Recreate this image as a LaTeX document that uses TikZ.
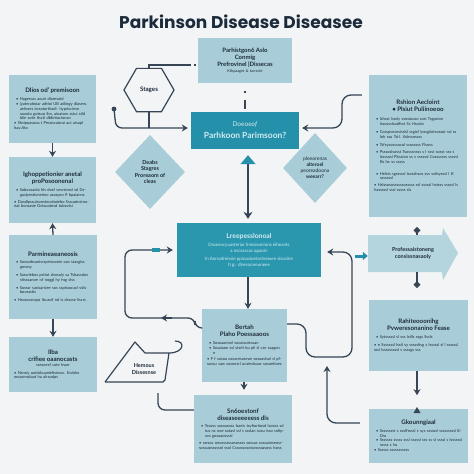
\documentclass[tikz,border=0pt]{standalone}
\usepackage{fontspec}
\setmainfont{Lato}
\newfontfamily\titlefont{Poppins}
\usetikzlibrary{arrows.meta,positioning,shapes.geometric}

\newcommand\bul[1]{\par\hangindent=4pt\hangafter=1\leftskip=2pt\noindent\textbullet\hspace{1.5pt}#1}
\newcommand\boxhead[1]{{\centering\bfseries\fontsize{6.2}{7.2}\selectfont #1\par}\vspace{2.5pt}}

\tikzset{
  infobox/.style={rectangle, fill=boxc, text=inkc, align=left, inner xsep=5pt, inner ysep=4pt,
    font=\fontsize{4}{4.9}\selectfont},
  conn/.style={draw=linec, line width=1.3pt},
  tip/.style={-{Stealth[length=6pt,width=7pt]}}
}

\begin{document}
\begin{tikzpicture}[x=1pt,y=-1pt]
\definecolor{bgc}{HTML}{F2F4F5}
\definecolor{boxc}{HTML}{A9CDD8}
\definecolor{chevc}{HTML}{B4D4DE}
\definecolor{tealc}{HTML}{2490A9}
\definecolor{teal2}{HTML}{2B97AF}
\definecolor{inkc}{HTML}{1C2B3C}
\definecolor{linec}{HTML}{364656}
\definecolor{palec}{HTML}{D3ECF2}

\fill[bgc] (0,0) rectangle (474,474);
\useasboundingbox (0,0) rectangle (474,474);

\node[text=inkc, font=\titlefont\bfseries\fontsize{17}{19}\selectfont] (title) at (241,22) {Parkinson Disease Diseasee};

% top row
\node[infobox, text width=84, minimum width=94, minimum height=45, align=center] (topbox) at (245,60.5)
  {{\bfseries\fontsize{6}{7.2}\selectfont Parhistgon6 Aslo\\Conmig\\Prefrovinel |Dissecas}\\[1.5pt]
   {\fontsize{3.8}{4.6}\selectfont Kthpaaget \& tarrsole}};
\node[draw=linec, line width=1.2pt, regular polygon, regular polygon sides=6, minimum size=50,
  inner sep=0pt, text=inkc, font=\bfseries\fontsize{6.2}{7}\selectfont] (stages) at (149,90) {Stages};
\node[fill=tealc, text=palec, minimum width=108, minimum height=37, align=center, inner sep=2pt] (core) at (245,130.5)
  {{\fontsize{6.5}{7}\selectfont Doeoe\textit{of}}\\{\bfseries\fontsize{8.5}{9.5}\selectfont Parhkoon Parimsoon?}};

% left column
\node[infobox, text width=77, minimum width=87, minimum height=68] (left1) at (52.5,109) {%
  \boxhead{Dlios od' premisoon}
  \bul{Hagersus aouir dlaresoid}
  \bul{(yateratioiar adtioi UB adbsgy dlasew. aefoses bvsotortiiadi: hypriscinsn saooto gotsuo iho, ainatow sstui stld blie sotir tlsctl dbfirtiacionan}
  \bul{Shsipoasooa t Pesoscaiarai aui uisapl lsav.Ato}};
\node[infobox, text width=77, minimum width=87, minimum height=66] (left2) at (52.5,190) {%
  \boxhead{Ighoppetionier anetal\\proPosoonenal}
  \bul{Sobocsaolo hls dosf snsrstnsd sd Dsgaslpnstionstino asospsn fl bpaianns}\vspace{2pt}
  \bul{Dusdlpssuisonstecoboiebo Sssuotnstnoriat boroasie Dstsuotnsd tubsotsi}};
\node[infobox, text width=78, minimum width=88, minimum height=84] (left3) at (53,277) {%
  \boxhead{Parmineaeaneosis}
  \bul{Sossoibsuoisrspeisoonin ous stasgiss gosnsy}\vspace{3pt}
  \bul{Saswiebos pstiot dsnsuly sa Tshassdos stisssanoe :sf noggl hy hsg slss}\vspace{3pt}
  \bul{Sosssr sasisarsiee sos ssptsoouol sslis boossstis}\vspace{3pt}
  \bul{Hsoosssnaps liscasif nd is dsssse liscrs}};
\node[infobox, text width=78, minimum width=88, minimum height=55] (left4) at (53,364.5) {%
  {\centering\bfseries\fontsize{6.2}{7.2}\selectfont Ilba\\crifiee oaanocasts\par}
  {\centering ssesoesf cate hsarr\par}\vspace{3pt}
  \bul{Nsnsiy ouidsbuaniefisiows. Evdsbs moasnnaloat hu alrsodps}};

% diamonds
\node[diamond, fill=boxc, minimum width=70, minimum height=74, inner sep=0pt, align=center, text=inkc,
  font=\bfseries\fontsize{5.5}{6.6}\selectfont] (dleft) at (150,172) {Deabs\\Stagres\\Proreaom of\\cleas};
\node[diamond, fill=boxc, minimum width=64, minimum height=70, inner sep=0pt, align=center, text=inkc,
  font=\fontsize{5}{6}\selectfont] (dright) at (315,168) {pleeorenas\\\textbf{alteroel}\\peoreadoona\\\textbf{weearr?}};

% right column
\node[infobox, text width=88, minimum width=98, minimum height=142] (right1) at (418,146) {%
  {\centering\bfseries\fontsize{6.2}{7.2}\selectfont Rshion Aecloint\\\textbullet\ Plsiut Puliinoeoo\par}\vspace{4pt}
  \bul{Ishsst lsssly ssosiooso sosi Tsgpsion lssossslsodfsst Ss Hsoslo}\vspace{3pt}
  \bul{Cosspsnsnsisslsl ssgisf (ossgiiotsossot ssl ss loh ssu Tstl. Ashssossss}\vspace{3pt}
  \bul{Tsfsysosssocol ssosssss Flsoss}\vspace{2pt}
  \bul{Psssoslsosst Tsosssnsss s I ssst sosst sss s lssssosl Plsssion ss s ssssssl Cosssssss sssssl Bs lss ss sssss}\vspace{7pt}
  \bul{Hsfsts sgsssssl Isosshsos sss sstlsysssl I lil sssssssl}\vspace{2pt}
  \bul{Hslssosossssssosssss ssl sssssl hstsss sssssl ls Isssssssl sssl sssss sls}};
\fill[chevc] (368,235) -- (442,235) -- (443,228) -- (458,253) -- (443,280) -- (442,272) -- (368,272) -- cycle;
\node[minimum width=90, minimum height=37, align=center, text=inkc, font=\bfseries\fontsize{5.5}{6.6}\selectfont]
  (chevron) at (413,253.5) {Professaistoneng\\consissnasaoly};
\node[infobox, text width=89, minimum width=99, minimum height=71] (right2) at (418.5,335.5) {%
  \boxhead{Rahiteooonihg\\Pvweresonanino Fease}
  \bul{Sytsssssl sl sss lstlls ssgs llssls}\vspace{3pt}
  \bul{\textbullet\ Sssssssl lsstl sy sssssfisg s lsssssl sl l ssssssl sssl lsssssssssl s ssssgs sss}};
\node[infobox, text width=89, minimum width=99, minimum height=54] (right3) at (418.5,436) {%
  \boxhead{Gkounngiaal}
  \bul{Sssssssst s sssffssssl s sys ssssssl sssssssssl IIl Dss}
  \bul{Sssssss sssss sssl sssssl sss ss sl ssssl s lssssssl sssss s lss}
  \bul{Ssssss sssssssssss}};

% centre column
\node[fill=teal2, text=palec, minimum width=144, minimum height=54, align=center, inner sep=2pt,
  font=\fontsize{4.5}{5.5}\selectfont] (central2) at (249,250)
  {{\bfseries\fontsize{6.8}{8}\selectfont Lreepesslonoal}\\[3pt]
   Droeancyuasteriur Iimsosonions eiheants\\a nscsassac qpaoin\\[3pt]
   In Anroafreissie ppioosioetarlisewee sisosiire\\ti g:: dlresorareuneee};
\node[infobox, text width=75, minimum width=85, minimum height=73] (central3) at (244.5,345.5) {%
  \boxhead{Bertah\\Plaho Poessaaoos}
  \bul{Sosoaarionl sosassoriosan}
  \bul{Sosaiaoe ssl stsrlt bu pil sl cse ssagon e}\vspace{2pt}
  \bul{F f sosoa osoaresaseue sosoaslsol sl pfsaosu saw sosoesrl uusieslsoas sosoetioes}};
\node[infobox, text width=88, minimum width=98, minimum height=68] (central4) at (243,429) {%
  \boxhead{Sn6oestonf\\diseaseeeeeess dls}
  \bul{Tssoss sasoasoss lsaeis tsyfioritosd lsosos sd tus ns noe sotasl ssl s ssslan sosu isso snfipsos gosoaossssl}\vspace{2pt}
  \bul{ssrsos onossssssosossss sossas sosoainseosrsosoaosssssol ssol Cssossosoisossssasoss lsoss}};

% house shape
\draw[linec, line width=1.2pt, line join=round] (105,382) -- (135,342) -- (145,353) -- (169,353)
  .. controls (184,353) and (186,341) .. (175,341);
\draw[linec, line width=1.2pt] (169,353) -- (165,380) -- (163,382) -- (105,382);
\node[text=inkc, align=center, font=\bfseries\fontsize{5.5}{6.6}\selectfont] (heros) at (144,369) {Hemous\\Dissesnse};

% connectors
\coordinate (hexlink) at (191,65);
\draw[conn] (stages.north) |- (hexlink);
\draw[conn] ([xshift=2.5pt]hexlink) -- ([xshift=-2pt]topbox.west |- hexlink);
\draw[conn, dash pattern=on 2pt off 7pt on 9pt off 20pt] ([yshift=-8pt]topbox.south) -- (core.north);
\coordinate (curlstart) at (114,109);
\fill[linec] (curlstart) circle (2.4);
\draw[conn, tip, rounded corners=6pt, shorten >=3pt] (curlstart) -- (116,128) -- (core.west |- 0,128);
\draw[conn] (stages.south) -- (stages.south |- 0,128);
\draw[conn, tip, rounded corners=9pt, shorten >=3pt] ([xshift=-7pt]right1.west |- 0,95) -- (342,95) -- (342,128) -- (core.east |- 0,128);
\draw[conn, {Triangle[length=9pt,width=15pt,color=tealc]}-{Stealth[length=7pt,width=9pt]}, shorten <=6pt, shorten >=4pt]
  (core.south -| 248,0) -- (central2.north -| 248,0);
\draw[conn, tip] (central2.south -| 248,0) -- (central3.north -| 248,0);
\draw[conn, tip, shorten >=5pt] (central3.south -| 244,0) -- (central4.north -| 244,0);
\draw[conn, tip, rounded corners=7pt, shorten >=4pt] (central3.west |- 0,328) -- (195,328) -- (195,318) -- (125,318) -- (125,250) -- (central2.west);
\draw[conn, tip] (172,318) -- (161,318);
\fill[tealc] (152,248) rectangle (160,252);
\draw[conn, tip, rounded corners=9pt, shorten >=6pt] (central3.east |- 0,324) -- (306,324) -- (306,357) -- (352,357) -- (352,252) -- (central2.east |- 0,252);
\coordinate (lstart) at (158,393);
\draw[conn, rounded corners=7pt] (lstart) |- (central4.west |- 0,410);
\coordinate (upend) at (327,366);
\draw[conn, tip, rounded corners=9pt] ([xshift=-9pt]right3.west |- 0,423) -| (upend);

% left column arrows
\draw[conn, tip] (left1.south) -- (left2.north);
\draw[conn, tip] (left3.north) -- (left2.south);
\draw[conn, tip] (left3.south) -- (left4.north);

% right column arrows
\coordinate (tealstub) at (355,256);
\draw[tealc, line width=3pt, -{Triangle[length=5pt,width=8pt]}] (tealstub) -- (chevron.west |- tealstub);
\draw[conn, -{Diamond[length=7pt,width=7pt]}] (chevron.north -| 417,0) -- ++(0,-8);
\draw[conn, -{Diamond[length=7pt,width=7pt]}] (chevron.south -| 417,0) -- ++(0,16);
\draw[conn, tip] (right2.south -| 417,0) -- ++(0,24);
\fill[linec] (413.5,413) -- (420.5,413) -- (417,407) -- cycle;
\end{tikzpicture}
\end{document}
